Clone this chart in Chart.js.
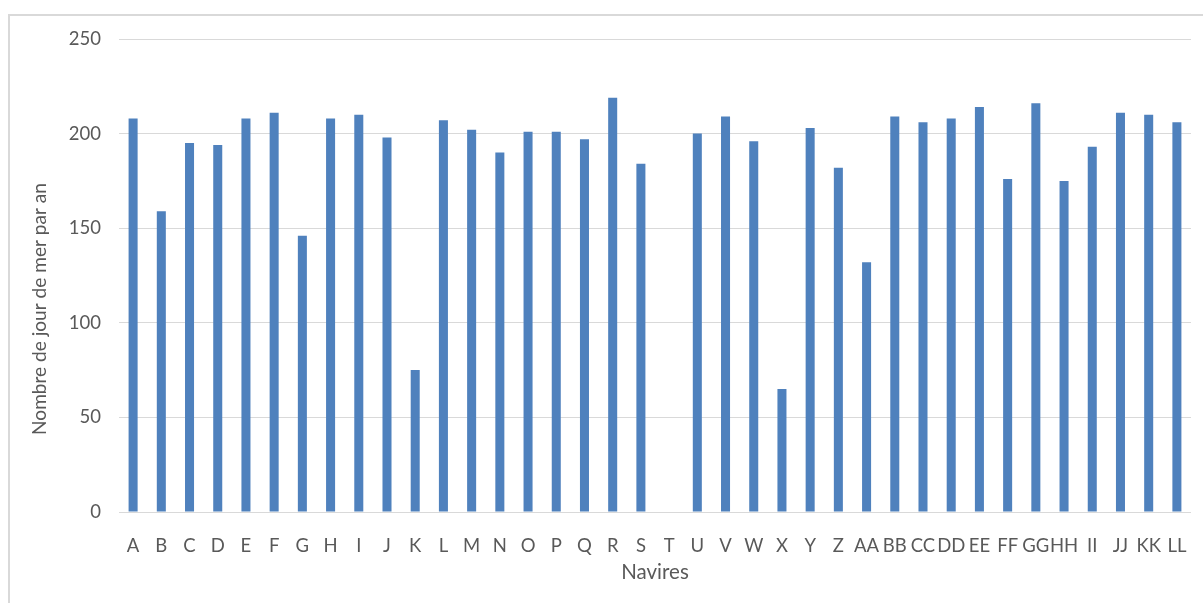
<!DOCTYPE html>
<html lang="fr">
<head>
<meta charset="utf-8">
<title>Nombre de jour de mer par an</title>
<script src="https://cdn.jsdelivr.net/npm/chart.js@4/dist/chart.umd.min.js"></script>
<style>
  html, body { margin: 0; padding: 0; background: #ffffff; overflow: hidden; }
  #frame {
    position: absolute; left: 8px; top: 14px;
    width: 1300px; height: 700px;
    border-top: 2px solid #d9d9d9; border-left: 2px solid #d9d9d9;
  }
  #wrap { position: absolute; left: 0; top: 0; width: 1203px; height: 603px; }
</style>
</head>
<body>
<div id="frame"></div>
<div id="wrap"><canvas id="chart" width="1203" height="603"></canvas></div>
<script>
// Ships (categories)
const navires = ['A','B','C','D','E','F','G','H','I','J','K','L','M','N','O','P','Q','R','S','T',
  'U','V','W','X','Y','Z','AA','BB','CC','DD','EE','FF','GG','HH','II','JJ','KK','LL'];

// Days at sea per year for each ship
const joursDeMer = [208,159,195,194,208,211,146,208,210,198,75,207,202,190,201,201,197,219,184,0,
  200,209,196,65,203,182,132,209,206,208,214,176,216,175,193,211,210,206];

// Value axis ticks
const yMin = 0;
const yMax = 250;
const yStep = 50;

const yTitle = 'Nombre de jour de mer par an';
const textColor = '#595959';
const fontFamily = 'Lato, "Open Sans", sans-serif';

// Vertical axis title, drawn rotated beside the value axis
const yTitlePlugin = {
  id: 'yTitle',
  afterDraw(chart) {
    const ctx = chart.ctx;
    ctx.save();
    ctx.font = '21px ' + fontFamily;
    const w = ctx.measureText(yTitle).width;
    const size = 21 * 252 / w;
    ctx.font = size.toFixed(2) + 'px ' + fontFamily;
    ctx.fillStyle = textColor;
    ctx.textAlign = 'center';
    ctx.textBaseline = 'middle';
    ctx.translate(40, 309);
    ctx.rotate(-Math.PI / 2);
    ctx.fillText(yTitle, 0, 0);
    ctx.restore();
  }
};

new Chart(document.getElementById('chart'), {
  type: 'bar',
  data: {
    labels: navires,
    datasets: [{
      label: yTitle,
      data: joursDeMer,
      backgroundColor: '#4f81bd',
      borderWidth: 0,
      categoryPercentage: 1,
      barPercentage: 0.32
    }]
  },
  plugins: [yTitlePlugin],
  options: {
    responsive: false,
    animation: false,
    devicePixelRatio: 1,
    layout: { padding: { left: 0, top: 39, right: 12, bottom: 0 } },
    plugins: { legend: { display: false }, tooltip: { enabled: false } },
    scales: {
      x: {
        grid: { display: false },
        border: { display: false },
        ticks: {
          color: textColor, font: { family: fontFamily, size: 18.5 },
          autoSkip: false, maxRotation: 0, minRotation: 0, padding: 15
        },
        title: {
          display: true, text: 'Navires', color: textColor,
          font: { family: fontFamily, size: 20.5 }, padding: { top: 0, bottom: 18 }
        },
        afterFit: (scale) => { scale.height = 91; }
      },
      y: {
        min: yMin, max: yMax,
        grid: { color: '#d9d9d9', lineWidth: 1, drawTicks: false },
        border: { display: false },
        ticks: {
          stepSize: yStep, color: textColor,
          font: { family: fontFamily, size: 18.5 }, padding: 18
        },
        title: { display: false },
        afterFit: (scale) => { scale.width = 119; }
      }
    }
  }
});
</script>
</body>
</html>
